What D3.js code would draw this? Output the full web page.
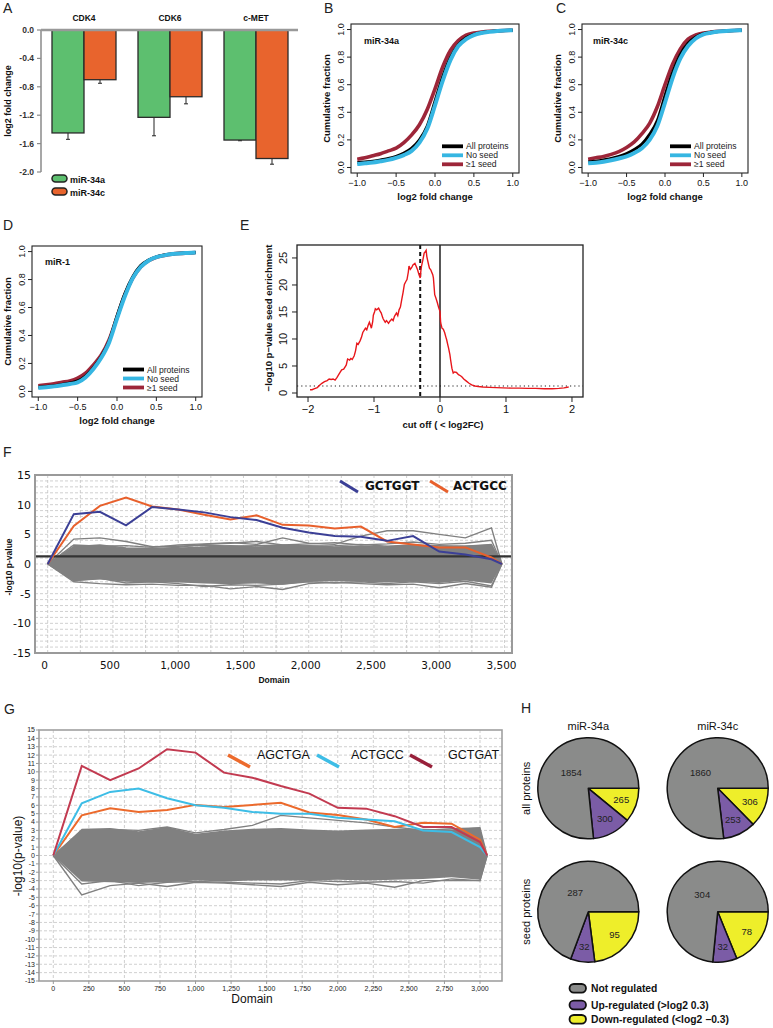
<!DOCTYPE html>
<html><head><meta charset="utf-8">
<script src="https://cdn.jsdelivr.net/npm/d3@7"></script>
<style>body{margin:0;background:#fff}svg{display:block}</style>
</head><body>
<svg id="c" width="773" height="1028"></svg>
<script>
// ---------------- DATA ----------------
// Panel A
const aGenes = ["CDK4", "CDK6", "c-MET"];
const aMirs = ["miR-34a", "miR-34c"];
const a34aMean = [-1.45, -1.23, -1.55];
const a34aErr = [0.09, 0.26, 0.01];
const a34cMean = [-0.70, -0.94, -1.81];
const a34cErr = [0.05, 0.10, 0.08];
const aTicks = [0, -0.4, -0.8, -1.2, -1.6, -2.0];

// Panels B-D (cumulative fraction)
const cdfX = [-1.0,-0.9,-0.8,-0.7,-0.6,-0.5,-0.4,-0.3,-0.2,-0.1,0,0.1,0.2,0.3,0.4,0.5,0.6,0.7,0.8,0.9,1.0];
const cdfXTicks = [-1, -0.5, 0, 0.5, 1];
const cdfYTicks = [0, 0.2, 0.4, 0.6, 0.8, 1.0];
const cdfLegend = ["All proteins", "No seed", "\u22651 seed"];
const allB = [0.035,0.04,0.045,0.055,0.065,0.08,0.105,0.14,0.2,0.3,0.48,0.66,0.8,0.89,0.94,0.965,0.977,0.985,0.99,0.993,0.995];
const noSeedB = [0.025,0.03,0.036,0.045,0.055,0.07,0.09,0.12,0.18,0.28,0.45,0.63,0.78,0.88,0.93,0.96,0.975,0.983,0.989,0.993,0.995];
const seedB = [0.06,0.07,0.085,0.1,0.12,0.14,0.18,0.236,0.31,0.42,0.57,0.73,0.85,0.92,0.96,0.975,0.982,0.987,0.99,0.993,0.995];
const allC = [0.04,0.045,0.055,0.065,0.08,0.1,0.13,0.17,0.24,0.34,0.52,0.69,0.82,0.9,0.945,0.97,0.98,0.986,0.99,0.993,0.995];
const noSeedC = [0.03,0.035,0.042,0.052,0.065,0.08,0.105,0.14,0.2,0.3,0.47,0.65,0.79,0.88,0.935,0.965,0.977,0.985,0.99,0.993,0.995];
const seedC = [0.06,0.07,0.08,0.095,0.115,0.145,0.185,0.245,0.32,0.44,0.6,0.75,0.86,0.93,0.96,0.975,0.982,0.987,0.99,0.993,0.995];
const allD = [0.03,0.035,0.04,0.05,0.06,0.075,0.11,0.17,0.25,0.36,0.54,0.7,0.82,0.9,0.94,0.962,0.975,0.983,0.988,0.991,0.993];
const noSeedD = [0.025,0.03,0.036,0.044,0.053,0.065,0.1,0.16,0.24,0.35,0.52,0.68,0.81,0.89,0.935,0.96,0.973,0.982,0.987,0.99,0.993];
const seedD = [0.04,0.047,0.055,0.065,0.075,0.095,0.13,0.19,0.26,0.37,0.53,0.69,0.81,0.89,0.935,0.96,0.973,0.982,0.987,0.99,0.993];

// Panel E
const eXTicks = [-2, -1, 0, 1, 2];
const eYTicks = [0, 5, 10, 15, 20, 25];
const eCurve = [[-1.97,0.6],[-1.94,0.6],[-1.90,0.8],[-1.86,1.0],[-1.82,1.5],[-1.79,1.8],[-1.75,2.1],[-1.71,2.3],[-1.68,2.6],[-1.65,2.5],[-1.62,2.6],[-1.59,2.4],[-1.56,2.9],[-1.54,3.3],[-1.51,3.9],[-1.49,4.3],[-1.46,4.4],[-1.44,4.8],[-1.42,5.2],[-1.40,6.3],[-1.37,6.1],[-1.35,6.4],[-1.33,6.2],[-1.30,6.9],[-1.28,7.8],[-1.26,9.2],[-1.24,9.0],[-1.21,9.7],[-1.19,10.3],[-1.17,11.2],[-1.15,11.6],[-1.13,12.0],[-1.11,11.7],[-1.09,12.5],[-1.07,13.1],[-1.05,12.4],[-1.04,12.0],[-1.02,13.2],[-1.01,14.4],[-0.99,15.1],[-0.98,15.6],[-0.96,15.4],[-0.93,15.7],[-0.91,15.2],[-0.89,14.8],[-0.87,14.0],[-0.86,13.7],[-0.84,13.3],[-0.83,13.1],[-0.81,13.4],[-0.78,12.9],[-0.76,13.3],[-0.73,13.7],[-0.71,13.4],[-0.69,14.2],[-0.67,14.6],[-0.66,14.8],[-0.64,14.3],[-0.62,15.4],[-0.60,15.9],[-0.58,17.3],[-0.56,18.6],[-0.54,20.1],[-0.52,20.6],[-0.50,21.0],[-0.48,22.4],[-0.47,23.5],[-0.45,22.9],[-0.43,23.2],[-0.41,23.7],[-0.38,24.0],[-0.36,23.4],[-0.34,22.8],[-0.32,22.0],[-0.30,21.3],[-0.29,22.6],[-0.28,23.5],[-0.26,24.6],[-0.24,25.9],[-0.22,26.2],[-0.21,26.4],[-0.20,25.3],[-0.19,24.7],[-0.17,23.6],[-0.16,23.1],[-0.14,22.8],[-0.13,22.5],[-0.11,21.9],[-0.10,21.3],[-0.08,18.2],[-0.06,17.5],[-0.04,16.7],[-0.02,15.8],[0.00,15.1],[0.01,13.0],[0.03,12.0],[0.05,11.8],[0.07,11.2],[0.09,10.3],[0.10,9.9],[0.12,8.8],[0.13,8.3],[0.15,7.1],[0.16,6.2],[0.18,4.6],[0.20,3.7],[0.22,3.9],[0.25,3.8],[0.28,3.4],[0.31,3.2],[0.33,3.0],[0.36,2.6],[0.40,2.2],[0.44,1.8],[0.48,1.5],[0.53,1.3],[0.58,1.2],[0.65,1.1],[0.75,1.05],[0.85,1.0],[0.95,0.95],[1.08,0.9],[1.2,0.9],[1.33,0.85],[1.45,0.85],[1.58,0.8],[1.7,0.8],[1.8,0.85],[1.88,0.95],[1.95,1.1]];
const eCutoff = -0.3;
const eSig = 1.3;

// Panel F
const fX = [0,200,400,600,800,1000,1200,1400,1600,1800,2000,2200,2400,2600,2800,3000,3200,3400,3480];
const fBlue = [0,8.4,8.8,6.5,9.6,9.2,8.7,7.9,7.4,6.1,5.3,4.7,4.6,3.9,4.7,2.1,1.6,0.8,0];
const fOrange = [0,6.4,9.8,11.2,9.7,9.2,8.3,7.5,8.2,6.6,6.5,6.0,6.3,3.8,3.3,2.8,2.8,1.1,0];
const fBandUp = [0,3.0,3.1,2.7,2.6,2.8,3.0,3.2,3.0,3.1,3.2,3.0,3.1,3.0,3.2,3.0,3.1,3.3,0];
const fBandLo = [0,-2.9,-2.6,-3.0,-3.1,-3.1,-3.3,-3.4,-3.3,-3.5,-3.0,-2.9,-3.0,-3.1,-3.0,-3.2,-2.8,-3.3,0];
const fGray1 = [0,4.2,4.4,3.8,2.9,3.0,3.2,3.0,3.1,3.2,3.0,3.1,3.3,3.0,3.2,3.1,3.0,3.3,0];
const fGray2 = [0,3.2,3.0,3.1,2.8,3.2,3.4,3.6,3.3,4.4,3.5,3.3,4.7,5.6,5.6,5.0,4.4,6.1,0];
const fGray3 = [0,-3.0,-3.3,-3.5,-3.4,-3.6,-3.6,-4.2,-3.8,-4.3,-3.3,-3.1,-3.3,-3.5,-3.4,-4.0,-3.3,-3.9,0];
const fGray4 = [0,-2.8,-2.4,-3.2,-3.0,-3.3,-3.8,-3.5,-3.6,-3.4,-3.0,-3.2,-3.0,-3.3,-3.0,-3.3,-2.9,-3.7,0];
const fGray5 = [0,2.9,3.2,2.7,2.6,2.8,3.3,3.5,3.8,3.2,3.4,3.6,3.2,3.4,3.7,3.3,3.5,4.0,0];
const fGray6 = [0,2.0,1.5,2.2,1.0,1.8,2.5,1.2,2.0,1.5,2.4,1.8,1.2,2.6,2.0,1.4,2.2,3.0,0];
const fGray7 = [0,-1.5,-2.2,-1.0,-2.4,-1.6,-2.0,-2.8,-1.5,-2.2,-1.8,-2.5,-2.0,-1.2,-2.6,-1.8,-2.4,-2.8,0];
const fSig = 1.3;
const fXTicks = [0,500,1000,1500,2000,2500,3000,3500];
const fYTicks = [-15,-10,-5,0,5,10,15];
const fLegend = ["GCTGGT", "ACTGCC"];

// Panel G
const gX = [0,200,400,600,800,1000,1200,1400,1600,1800,2000,2200,2400,2600,2800,3000,3050];
const gRed = [0,10.7,9.0,10.4,12.7,12.3,9.9,9.3,8.3,7.4,5.7,5.6,4.7,3.4,3.4,1.6,0];
const gCyan = [0,6.25,7.6,8.0,6.85,6.0,5.7,5.2,5.0,5.0,4.5,4.3,4.1,3.0,2.8,1.0,0];
const gOrange = [0,4.8,5.65,5.2,5.45,6.05,5.8,6.05,6.3,5.15,4.85,4.3,3.4,3.9,3.8,1.9,0];
const gBandUp = [0,3.2,3.3,2.9,3.4,2.6,3.0,3.2,3.3,3.1,3.0,3.1,3.2,3.2,3.1,3.4,0];
const gBandLo = [0,-3.1,-3.2,-3.3,-3.2,-3.0,-3.1,-3.0,-3.0,-3.0,-2.9,-3.0,-2.9,-2.8,-2.6,-2.9,0];
const gGray1 = [0,3.0,3.1,3.0,3.4,2.7,3.1,3.6,4.8,4.5,4.2,3.9,3.4,3.0,3.2,3.3,0];
const gGray2 = [0,-4.7,-3.6,-3.3,-3.7,-3.2,-3.3,-3.5,-3.7,-3.2,-3.5,-3.3,-3.8,-3.0,-3.0,-3.0,0];
const gGray3 = [0,-3.4,-3.0,-3.6,-3.2,-3.1,-3.2,-3.3,-3.4,-3.0,-3.1,-3.2,-3.1,-3.3,-2.8,-3.0,0];
const gGray4 = [0,2.2,1.6,2.5,1.2,2.0,2.8,1.5,2.3,1.7,2.6,2.0,1.4,2.8,2.2,1.6,0];
const gGray5 = [0,-1.8,-2.4,-1.2,-2.6,-1.9,-2.2,-2.9,-1.7,-2.4,-2.0,-2.7,-2.2,-1.5,-2.4,-2.0,0];
const gXTicks = [0,250,500,750,1000,1250,1500,1750,2000,2250,2500,2750,3000];
const gYTicks = d3.range(-15, 16);
const gLegend = ["AGCTGA", "ACTGCC", "GCTGAT"];

// Panel H
const hMirs = ["miR-34a", "miR-34c"];
const hSets = ["all proteins", "seed proteins"];
const hNot = [[1854, 1860], [287, 304]];
const hUp = [[300, 253], [32, 32]];
const hDown = [[265, 306], [95, 78]];
const hLegend = ["Not regulated", "Up-regulated (>log2 0.3)", "Down-regulated (<log2 \u22120.3)"];

// ---------------- DRAWING ----------------
const svg = d3.select("#c");
const SANS = "'Liberation Sans', Arial, Helvetica, sans-serif";
const DJ = "'DejaVu Sans', Verdana, sans-serif";
function txt(g, x, y, s, o = {}) {
  const t = g.append("text").attr("x", x).attr("y", y).text(s)
    .attr("font-family", o.ff || SANS).attr("font-size", o.fs || 10)
    .attr("font-weight", o.fw || "normal").attr("fill", o.fill || "#111")
    .attr("text-anchor", o.anchor || "start");
  if (o.dy) t.attr("dy", o.dy);
  if (o.rot) t.attr("transform", `rotate(${o.rot},${x},${y})`);
  return t;
}
const mfmt = (d, p) => (d < 0 ? "\u2212" : "") + Math.abs(d).toFixed(p);

// panel letters
[["A",3,13],["B",324,13],["C",556,13],["D",3,230],["E",240,230],["F",3,457],["G",4,714],["H",521,713]]
  .forEach(([s,x,y]) => txt(svg, x, y, s, {fs: 14, fill: "#222"}));

// ---- Panel A ----
{
  const g = svg.append("g");
  const y = d3.scaleLinear().domain([0, -2]).range([30, 172]);
  const x = d3.scaleBand().domain(aGenes).range([41, 299]);
  const xi = d3.scaleBand().domain(aMirs).range([x.bandwidth() / 2 - 32, x.bandwidth() / 2 + 32]);
  const col = {"miR-34a": "#5dbf6f", "miR-34c": "#e8642d"};
  const means = {"miR-34a": a34aMean, "miR-34c": a34cMean};
  const errs = {"miR-34a": a34aErr, "miR-34c": a34cErr};
  const bars = [];
  aMirs.forEach(m => aGenes.forEach((gn, i) => bars.push({m, gn, v: means[m][i], e: errs[m][i]})));
  const cx = d => x(d.gn) + xi(d.m) + xi.bandwidth() / 2;
  g.selectAll(null).data(bars).join("line")
    .attr("x1", cx).attr("x2", cx).attr("y1", d => y(d.v)).attr("y2", d => y(d.v - d.e))
    .attr("stroke", "#222").attr("stroke-width", 1);
  g.selectAll(null).data(bars).join("line")
    .attr("x1", d => cx(d) - 2).attr("x2", d => cx(d) + 2).attr("y1", d => y(d.v - d.e)).attr("y2", d => y(d.v - d.e))
    .attr("stroke", "#222").attr("stroke-width", 1);
  g.selectAll(null).data(bars).join("rect")
    .attr("x", d => x(d.gn) + xi(d.m)).attr("width", xi.bandwidth())
    .attr("y", y(0)).attr("height", d => y(d.v) - y(0))
    .attr("fill", d => col[d.m]).attr("stroke", "#2a2a2a").attr("stroke-width", 1.3);
  // axis
  g.append("line").attr("x1", 41).attr("x2", 41).attr("y1", y(0)).attr("y2", y(-2)).attr("stroke", "#8a8a8a").attr("stroke-width", 1.5);
  g.selectAll(null).data(aTicks).join("line").attr("x1", 37).attr("x2", 41).attr("y1", d => y(d)).attr("y2", d => y(d)).attr("stroke", "#8a8a8a").attr("stroke-width", 1.2);
  g.selectAll(null).data(aTicks).join("text").attr("x", 34).attr("y", d => y(d)).attr("dy", "0.35em")
    .attr("text-anchor", "end").attr("font-family", SANS).attr("font-size", 8.5).attr("font-weight", "bold").attr("fill", "#333")
    .text(d => d.toFixed(1));
  g.append("line").attr("x1", 41).attr("x2", 298).attr("y1", y(0)).attr("y2", y(0)).attr("stroke", "#999").attr("stroke-width", 2.5);
  g.selectAll(null).data(aGenes).join("text").attr("x", d => x(d) + x.bandwidth() / 2).attr("y", 20.5)
    .attr("text-anchor", "middle").attr("font-family", SANS).attr("font-size", 8.5).attr("font-weight", "bold").attr("fill", "#111").text(d => d);
  txt(g, 11, 101, "log2 fold change", {fs: 9, fw: "bold", anchor: "middle", rot: -90});
  aMirs.forEach((m, i) => {
    g.append("rect").attr("x", 52).attr("y", 175 + i * 13).attr("width", 15).attr("height", 7).attr("rx", 3.5)
      .attr("fill", col[m]).attr("stroke", "#222").attr("stroke-width", 1.5);
    txt(g, 70, 182.5 + i * 13, m, {fs: 9, fw: "bold"});
  });
}

// ---- Panels B, C, D ----
function cdfPanel(P) {
  const g = svg.append("g");
  const x = d3.scaleLinear().domain([-1.08, 1.08]).range([P.l, P.r]);
  const y = d3.scaleLinear().domain([-0.04, 1.04]).range([P.b, P.t]);
  const ln = d3.line().x((d, i) => x(cdfX[i])).y(d => y(d)).curve(d3.curveMonotoneX);
  const cols = ["#000", "#36b6e2", "#9d2639"];
  [[P.seed, cols[2], 3.6], [P.all, cols[0], 3], [P.none, cols[1], 4]].forEach(([d, c, w]) =>
    g.append("path").datum(d).attr("d", ln).attr("fill", "none").attr("stroke", c).attr("stroke-width", w));
  g.append("rect").attr("x", P.l).attr("y", P.t).attr("width", P.r - P.l).attr("height", P.b - P.t)
    .attr("fill", "none").attr("stroke", "#222").attr("stroke-width", 1.1);
  g.selectAll(null).data(cdfXTicks).join("line").attr("x1", d => x(d)).attr("x2", d => x(d)).attr("y1", P.b).attr("y2", P.b + 4).attr("stroke", "#222");
  g.selectAll(null).data(cdfXTicks).join("text").attr("x", d => x(d)).attr("y", P.b + 12.5).attr("text-anchor", "middle")
    .attr("font-family", SANS).attr("font-size", 9).attr("fill", "#111").text(d => mfmt(d, 1));
  g.selectAll(null).data(cdfYTicks).join("line").attr("x1", P.l - 4).attr("x2", P.l).attr("y1", d => y(d)).attr("y2", d => y(d)).attr("stroke", "#222");
  g.selectAll(null).data(cdfYTicks).join("text").attr("x", P.l - 6.5).attr("y", d => y(d)).attr("text-anchor", "middle")
    .attr("transform", d => `rotate(-90,${P.l - 6.5},${y(d)})`)
    .attr("font-family", SANS).attr("font-size", 9).attr("fill", "#111").text(d => d.toFixed(1));
  txt(g, (P.l + P.r) / 2, P.b + 26.5, "log2 fold change", {fs: 9.5, fw: "bold", anchor: "middle"});
  txt(g, P.l - 21, (P.t + P.b) / 2, "Cumulative fraction", {fs: 9.5, fw: "bold", anchor: "middle", rot: -90});
  txt(g, P.tx, P.ty, P.title, {fs: 9, fw: "bold"});
  cdfLegend.forEach((s, i) => {
    const yy = P.ly + i * 9;
    g.append("line").attr("x1", P.lx).attr("x2", P.lx + 21).attr("y1", yy).attr("y2", yy).attr("stroke", cols[i]).attr("stroke-width", 3.8);
    txt(g, P.lx + 24, yy, s, {fs: 8.6, dy: "0.35em", fill: "#222"});
  });
}
cdfPanel({l: 351, r: 519, t: 24, b: 173, all: allB, none: noSeedB, seed: seedB, title: "miR-34a", tx: 364, ty: 44, lx: 442, ly: 146.3});
cdfPanel({l: 582, r: 748, t: 24, b: 173, all: allC, none: noSeedC, seed: seedC, title: "miR-34c", tx: 593, ty: 44, lx: 670, ly: 146.3});
cdfPanel({l: 32, r: 202, t: 246, b: 397, all: allD, none: noSeedD, seed: seedD, title: "miR-1", tx: 45, ty: 265, lx: 123, ly: 369.5});

// ---- Panel E ----
{
  const g = svg.append("g");
  const L = 297, R = 583, T = 245, B = 397;
  const x = d3.scaleLinear().domain([-2.167, 2.167]).range([L, R]);
  const y = d3.scaleLinear().domain([-0.74, 27.4]).range([B, T]);
  g.append("line").attr("x1", L).attr("x2", R).attr("y1", y(eSig)).attr("y2", y(eSig)).attr("stroke", "#222").attr("stroke-width", 1.2).attr("stroke-dasharray", "1.2,3");
  g.append("line").attr("x1", x(eCutoff)).attr("x2", x(eCutoff)).attr("y1", T).attr("y2", B).attr("stroke", "#111").attr("stroke-width", 2).attr("stroke-dasharray", "4,3");
  g.append("line").attr("x1", x(0)).attr("x2", x(0)).attr("y1", T).attr("y2", B).attr("stroke", "#111").attr("stroke-width", 1.4);
  g.append("path").datum(eCurve).attr("d", d3.line().x(d => x(d[0])).y(d => y(d[1])))
    .attr("fill", "none").attr("stroke", "#e8161b").attr("stroke-width", 1.4);
  g.append("rect").attr("x", L).attr("y", T).attr("width", R - L).attr("height", B - T).attr("fill", "none").attr("stroke", "#222").attr("stroke-width", 1.3);
  g.selectAll(null).data(eXTicks).join("line").attr("x1", d => x(d)).attr("x2", d => x(d)).attr("y1", B).attr("y2", B + 5).attr("stroke", "#222");
  g.selectAll(null).data(eXTicks).join("text").attr("x", d => x(d)).attr("y", B + 16).attr("text-anchor", "middle")
    .attr("font-family", SANS).attr("font-size", 11).attr("fill", "#111").text(d => mfmt(d, 0));
  g.selectAll(null).data(eYTicks).join("line").attr("x1", L - 5).attr("x2", L).attr("y1", d => y(d)).attr("y2", d => y(d)).attr("stroke", "#222");
  g.selectAll(null).data(eYTicks).join("text").attr("x", L - 10).attr("y", d => y(d)).attr("text-anchor", "middle")
    .attr("transform", d => `rotate(-90,${L - 10},${y(d)})`)
    .attr("font-family", SANS).attr("font-size", 11).attr("fill", "#111").text(d => d);
  txt(g, 443, 428, "cut off ( < log2FC)", {fs: 9.5, fw: "bold", anchor: "middle"});
  txt(g, 272, 318, "\u2212log10 p\u2212value seed enrichment", {fs: 9.5, fw: "bold", anchor: "middle", rot: -90});
}

// ---- Panel F ----
{
  const g = svg.append("g");
  const L = 35, R = 512, T = 475, B = 653;
  const x = d3.scaleLinear().domain([0, 3500]).range([47.7, 504.5]);
  const y = d3.scaleLinear().domain([-15, 15]).range([B, T]);
  g.selectAll(null).data(d3.range(-14, 15)).join("line").attr("x1", L).attr("x2", R).attr("y1", d => y(d)).attr("y2", d => y(d))
    .attr("stroke", "#c4c4c4").attr("stroke-width", 0.8).attr("stroke-dasharray", "3,2");
  g.selectAll(null).data(d3.range(0, 3501, 250)).join("line").attr("x1", d => x(d)).attr("x2", d => x(d)).attr("y1", T).attr("y2", B)
    .attr("stroke", "#c4c4c4").attr("stroke-width", 0.8).attr("stroke-dasharray", "3,2");
  const gray = "#808080";
  g.append("path").datum(fBandUp).attr("d", d3.area().x((d, i) => x(fX[i])).y1(d => y(d)).y0((d, i) => y(fBandLo[i])))
    .attr("fill", gray);
  const ln = d3.line().x((d, i) => x(fX[i])).y(d => y(d));
  [fGray1, fGray2, fGray3, fGray4, fGray5, fGray6, fGray7].forEach(d =>
    g.append("path").datum(d).attr("d", ln).attr("fill", "none").attr("stroke", gray).attr("stroke-width", 1.4));
  g.append("line").attr("x1", L).attr("x2", R).attr("y1", y(fSig)).attr("y2", y(fSig)).attr("stroke", "#333").attr("stroke-width", 2.2);
  g.append("path").datum(fOrange).attr("d", ln).attr("fill", "none").attr("stroke", "#e8602c").attr("stroke-width", 2);
  g.append("path").datum(fBlue).attr("d", ln).attr("fill", "none").attr("stroke", "#3b3f96").attr("stroke-width", 2);
  g.append("rect").attr("x", L).attr("y", T).attr("width", R - L).attr("height", B - T).attr("fill", "none").attr("stroke", "#9a9a9a").attr("stroke-width", 2);
  g.selectAll(null).data(fYTicks).join("text").attr("x", 31).attr("y", d => y(d)).attr("dy", "0.36em").attr("text-anchor", "end")
    .attr("font-family", DJ).attr("font-size", 11).attr("fill", "#111").text(d => d);
  g.selectAll(null).data(fXTicks).join("text").attr("x", d => x(d) - 3).attr("y", 668.5).attr("text-anchor", "middle")
    .attr("font-family", DJ).attr("font-size", 10.5).attr("fill", "#111").text(d => d3.format(",")(d));
  txt(g, 274, 683, "Domain", {fs: 8.5, fw: "bold", anchor: "middle"});
  txt(g, 12, 567, "-log10 p-value", {fs: 8.5, fw: "bold", anchor: "middle", rot: -90});
  // legend
  const lc = ["#3b3f96", "#e8602c"];
  [[340, 365], [430, 453]].forEach(([lx, tx], i) => {
    g.append("line").attr("x1", lx).attr("x2", lx + 18).attr("y1", 481).attr("y2", 492).attr("stroke", lc[i]).attr("stroke-width", 3);
    txt(g, tx, 489.5, fLegend[i], {ff: DJ, fs: 12, fw: "bold"});
  });
}

// ---- Panel G ----
{
  const g = svg.append("g");
  const L = 39, R = 502, T = 730, B = 981;
  const x = d3.scaleLinear().domain([0, 3000]).range([53.3, 480]);
  const y = d3.scaleLinear().domain([-15, 15]).range([B, T]);
  g.selectAll(null).data(d3.range(-14, 15)).join("line").attr("x1", L).attr("x2", R).attr("y1", d => y(d)).attr("y2", d => y(d))
    .attr("stroke", "#c4c4c4").attr("stroke-width", 0.8).attr("stroke-dasharray", "3,2");
  g.selectAll(null).data(gXTicks).join("line").attr("x1", d => x(d)).attr("x2", d => x(d)).attr("y1", T).attr("y2", B)
    .attr("stroke", "#c4c4c4").attr("stroke-width", 0.8).attr("stroke-dasharray", "3,2");
  const gray = "#808080";
  g.append("path").datum(gBandUp).attr("d", d3.area().x((d, i) => x(gX[i])).y1(d => y(d)).y0((d, i) => y(gBandLo[i])))
    .attr("fill", gray);
  const ln = d3.line().x((d, i) => x(gX[i])).y(d => y(d));
  [gGray1, gGray2, gGray3, gGray4, gGray5].forEach(d =>
    g.append("path").datum(d).attr("d", ln).attr("fill", "none").attr("stroke", gray).attr("stroke-width", 1.4));
  [[gOrange, "#ec6a2c"], [gCyan, "#3dbde6"], [gRed, "#c23a50"]].forEach(([d, c]) =>
    g.append("path").datum(d).attr("d", ln).attr("fill", "none").attr("stroke", c).attr("stroke-width", 2));
  g.append("rect").attr("x", L).attr("y", T).attr("width", R - L).attr("height", B - T).attr("fill", "none").attr("stroke", "#a0a0a0").attr("stroke-width", 1.6);
  g.selectAll(null).data(gYTicks).join("line").attr("x1", L - 3).attr("x2", L).attr("y1", d => y(d)).attr("y2", d => y(d)).attr("stroke", "#999");
  g.selectAll(null).data(gYTicks).join("text").attr("x", 35).attr("y", d => y(d)).attr("dy", "0.35em").attr("text-anchor", "end")
    .attr("font-family", SANS).attr("font-size", 7).attr("fill", "#222").text(d => d);
  g.selectAll(null).data(gXTicks).join("line").attr("x1", d => x(d)).attr("x2", d => x(d)).attr("y1", B).attr("y2", B + 3).attr("stroke", "#999");
  g.selectAll(null).data(gXTicks).join("text").attr("x", d => x(d)).attr("y", 991).attr("text-anchor", "middle")
    .attr("font-family", SANS).attr("font-size", 7).attr("fill", "#222").text(d => d3.format(",")(d));
  txt(g, 252, 1003, "Domain", {fs: 12, anchor: "middle", fill: "#111"});
  txt(g, 22, 856, "-log10(p-value)", {fs: 12, anchor: "middle", rot: -90, fill: "#111"});
  const lc = ["#ec6a2c", "#3dbde6", "#98203a"];
  [[228, 257], [317, 351], [410, 448]].forEach(([lx, tx], i) => {
    g.append("line").attr("x1", lx).attr("x2", lx + 22).attr("y1", 755).attr("y2", 767).attr("stroke", lc[i]).attr("stroke-width", 3.5);
    txt(g, tx, 758.5, gLegend[i], {fs: 12.5, fill: "#111"});
  });
}

// ---- Panel H ----
{
  const g = svg.append("g");
  const px = d3.scalePoint().domain(hMirs).range([588.3, 717.7]);
  const py = d3.scalePoint().domain(hSets).range([788.3, 911.7]);
  const r = 50.5;
  const cols = ["#eeee2a", "#7b5ca6", "#8a8b8a"];
  const pie = d3.pie().sort(null).startAngle(Math.PI / 2).endAngle(Math.PI / 2 + 2 * Math.PI);
  const arc = d3.arc().innerRadius(0).outerRadius(r);
  hSets.forEach((s, si) => hMirs.forEach((m, mi) => {
    const vals = [hDown[si][mi], hUp[si][mi], hNot[si][mi]];
    const arcs = pie(vals);
    const pg = g.append("g").attr("transform", `translate(${px(m)},${py(s)})`);
    pg.selectAll(null).data(arcs).join("path").attr("d", arc).attr("fill", (d, i) => cols[i])
      .attr("stroke", "#111").attr("stroke-width", 1.5).attr("stroke-linejoin", "round");
    pg.selectAll(null).data(arcs).join("text")
      .attr("transform", (d, i) => {
        const rr = i === 2 ? 23 : 35;
        return `translate(${d3.arc().innerRadius(rr).outerRadius(rr).centroid(d)})`;
      })
      .attr("text-anchor", "middle").attr("dy", "0.35em").attr("font-family", SANS).attr("font-size", 9.5).attr("fill", "#222")
      .text(d => d.data);
  }));
  hMirs.forEach(m => txt(g, px(m), 730, m, {fs: 11, anchor: "middle", fill: "#111"}));
  hSets.forEach(s => txt(g, 530, py(s), s, {fs: 11, anchor: "middle", rot: -90, fill: "#111"}));
  const lcol = ["#8a8b8a", "#7b5ca6", "#eeee2a"];
  [988.3, 1005, 1019.3].forEach((yy, i) => {
    g.append("rect").attr("x", 569.5).attr("y", yy - 4.3).attr("width", 16.5).attr("height", 8.6).attr("rx", 4.3)
      .attr("fill", lcol[i]).attr("stroke", "#111").attr("stroke-width", 1.8);
    txt(g, 591, yy + 3.8, hLegend[i], {fs: 10.3, fw: "bold", fill: "#111"});
  });
}
</script>
</body></html>
